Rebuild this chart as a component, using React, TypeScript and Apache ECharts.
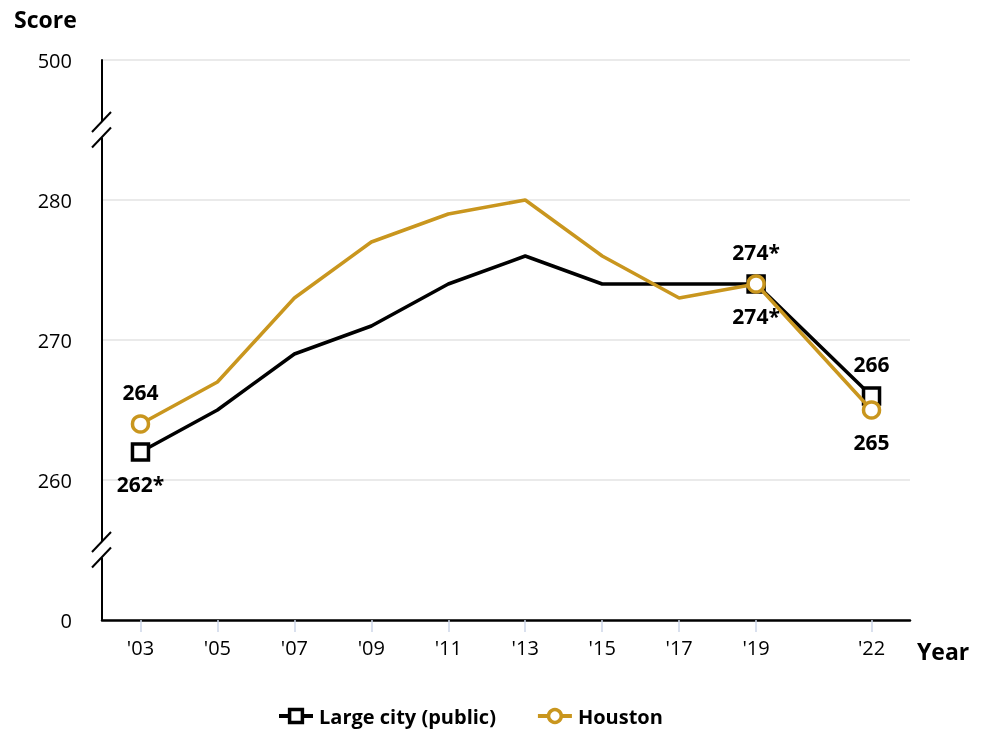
import React, { useEffect, useRef } from "react";
import * as echarts from "echarts";

const allYears: string[] = [];
for (let y = 2002; y <= 2023; y++) allYears.push(String(y));
const tickYears = ["2003", "2005", "2007", "2009", "2011", "2013", "2015", "2017", "2019", "2022"];

const dataYears = ["2003", "2005", "2007", "2009", "2011", "2013", "2015", "2017", "2019", "2022"];
const largeCity = [262, 265, 269, 271, 274, 276, 274, 274, 274, 266];
const houston = [264, 267, 273, 277, 279, 280, 276, 273, 274, 265];
const largeCityLabels = ["262*", "", "", "", "", "", "", "", "274*", "266"];
const houstonLabels = ["264", "", "", "", "", "", "", "", "274*", "265"];
const largeCityLabelPos = ["bottom", "", "", "", "", "", "", "", "top", "top"];
const houstonLabelPos = ["top", "", "", "", "", "", "", "", "bottom", "bottom"];

const yTickLabels: Record<number, string> = { 250: "0", 260: "260", 270: "270", 280: "280", 290: "500" };
const breakValues = [285, 255];

const GOLD = "#C9961E";
const FONT = "'Open Sans', 'Noto Sans', sans-serif";

function buildData(values: number[], labels: string[], pos: string[]) {
  return values.map((v, i) => {
    const marked = labels[i] !== "";
    return {
      value: [dataYears[i], v],
      symbol: marked ? undefined : "none",
      label: marked
        ? { show: true, formatter: labels[i], position: pos[i] }
        : { show: false },
    };
  });
}

export default function App() {
  const ref = useRef<HTMLDivElement>(null);
  useEffect(() => {
    if (!ref.current) return;
    const chart = echarts.init(ref.current, undefined, { renderer: "svg" });
    const labelStyle = {
      fontFamily: FONT,
      fontWeight: "bold",
      fontSize: 21,
      color: "#000",
      distance: 12,
    };
    const titleStyle = { fontFamily: FONT, fontWeight: "bold", fontSize: 23, color: "#000" };
    chart.setOption({
      animation: false,
      textStyle: { fontFamily: FONT },
      title: [
        { text: "Score", left: 9, top: 2, textStyle: titleStyle },
        { text: "Year", left: 912, top: 634, textStyle: titleStyle },
      ],
      grid: { left: 102, right: 82, top: 60, bottom: 109 },
      legend: {
        top: 701,
        left: 272,
        itemWidth: 34,
        itemHeight: 16,
        itemGap: 40,
        lineStyle: { width: 4 },
        itemStyle: { borderWidth: 3.5 },
        textStyle: { fontFamily: FONT, fontWeight: "bold", fontSize: 20, color: "#000", padding: [0, 0, 0, 1] },
        data: ["Large city (public)", "Houston"],
      },
      xAxis: {
        type: "category",
        data: allYears,
        boundaryGap: false,
        axisLine: { lineStyle: { color: "#000", width: 2.5 } },
        axisTick: {
          show: true,
          length: 12,
          interval: (i: number, v: string) => tickYears.includes(v),
          lineStyle: { color: "#cdd6e8", width: 1.5 },
        },
        axisLabel: {
          interval: (i: number, v: string) => tickYears.includes(v),
          formatter: (v: string) => "'" + v.slice(2),
          fontFamily: FONT,
          fontSize: 20,
          color: "#000",
          margin: 17,
        },
        splitLine: { show: false },
      },
      yAxis: {
        type: "value",
        min: 250,
        max: 290,
        interval: 10,
        axisLine: { show: true, lineStyle: { color: "#000", width: 2 } },
        axisTick: { show: false },
        axisLabel: {
          formatter: (v: number) => yTickLabels[v] ?? "",
          fontFamily: FONT,
          fontSize: 20,
          color: "#000",
          margin: 30,
        },
        splitLine: { lineStyle: { color: "#e3e3e3", width: 1.5 } },
      },
      series: [
        {
          name: "Large city (public)",
          type: "line",
          symbol: "rect",
          symbolSize: 16,
          lineStyle: { color: "#000", width: 3.5 },
          itemStyle: { color: "#fff", borderColor: "#000", borderWidth: 3.5 },
          label: labelStyle,
          data: buildData(largeCity, largeCityLabels, largeCityLabelPos),
          z: 3,
        },
        {
          name: "Houston",
          type: "line",
          symbol: "circle",
          symbolSize: 16,
          lineStyle: { color: GOLD, width: 3.5 },
          itemStyle: { color: "#fff", borderColor: GOLD, borderWidth: 3.5 },
          label: labelStyle,
          data: buildData(houston, houstonLabels, houstonLabelPos),
          z: 4,
        },
      ],
    });

    const ax = chart.convertToPixel({ xAxisIndex: 0 }, allYears[0]) as number;
    const graphics: any[] = [];
    breakValues.forEach((bv) => {
      const cy = chart.convertToPixel({ yAxisIndex: 0 }, bv) as number;
      graphics.push({
        type: "rect",
        shape: { x: ax - 4, y: cy - 8, width: 8, height: 15.5 },
        style: { fill: "#fff" },
        z: 100,
      });
      [-8, 7.5].forEach((off) => {
        graphics.push({
          type: "line",
          shape: { x1: ax - 10, y1: cy + off + 10, x2: ax + 9, y2: cy + off - 10 },
          style: { stroke: "#000", lineWidth: 2 },
          z: 101,
        });
      });
    });
    chart.setOption({ graphic: graphics });

    return () => chart.dispose();
  }, []);
  return (
    <div
      ref={ref}
      style={{ position: "fixed", left: 0, top: 0, width: 992, height: 729 }}
    />
  );
}
